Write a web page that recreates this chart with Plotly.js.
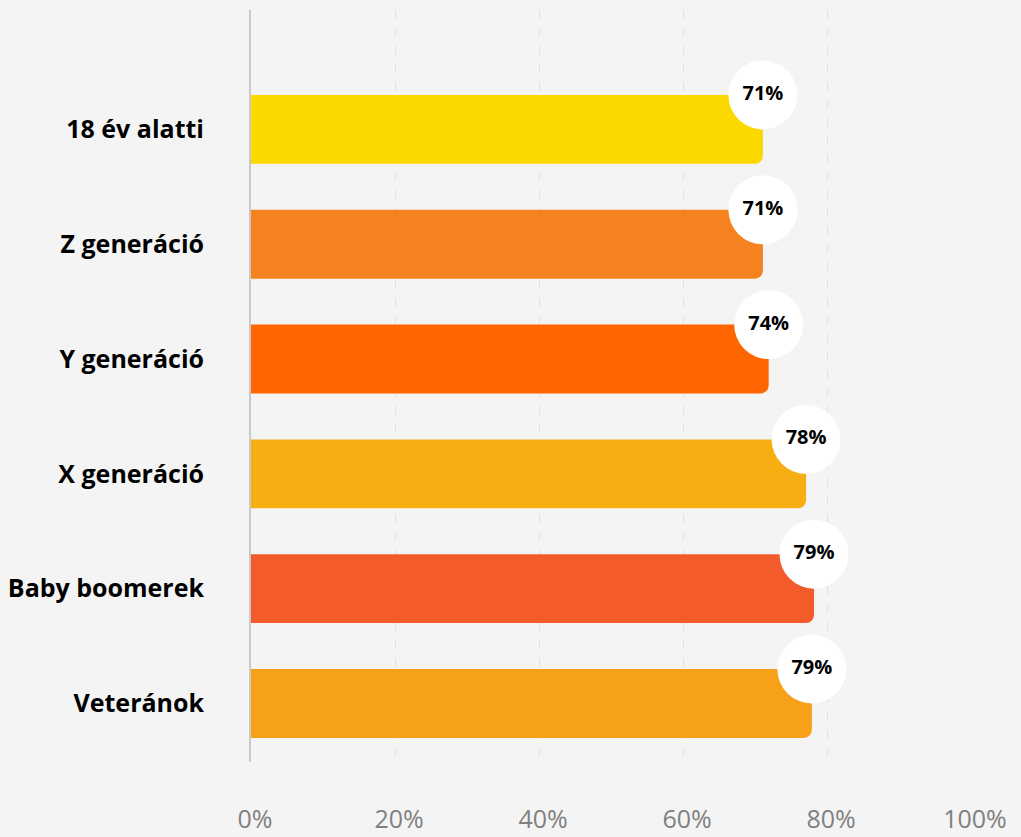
<!DOCTYPE html>
<html>
<head>
<meta charset="utf-8">
<script src="https://cdn.plot.ly/plotly-3.0.1.min.js"></script>
<style>
  html, body { margin: 0; padding: 0; background: #f4f4f4; }
  #chart { width: 1021px; height: 837px; }
</style>
</head>
<body>
<div id="chart"></div>
<script>
// Data
const categories = ["18 év alatti", "Z generáció", "Y generáció", "X generáció", "Baby boomerek", "Veteránok"];
const barValues = [71.1, 71.1, 71.9, 77.1, 78.2, 77.9];
const labelTexts = ["71%", "71%", "74%", "78%", "79%", "79%"];
const barColors = ["#FBD800", "#F5821F", "#FF6500", "#F6AE13", "#F45B2A", "#F7A118"];
const xTickValues = [0, 20, 40, 60, 80, 100];

const idx = categories.map((_, i) => i);
const halfBar = 0.3;

const bars = {
  type: "bar",
  orientation: "h",
  x: barValues,
  y: idx,
  marker: { color: barColors, cornerradius: 8, line: { width: 0 } },
  hoverinfo: "skip"
};

const bubbles = {
  type: "scatter",
  mode: "markers+text",
  x: barValues,
  y: idx.map(i => i - halfBar),
  text: labelTexts,
  textposition: "middle center",
  textfont: { family: "Open Sans", size: 20, color: "#000000", weight: 700 },
  marker: { size: 69, color: "#ffffff", line: { width: 0 } },
  cliponaxis: false,
  hoverinfo: "skip"
};

const layout = {
  width: 1021,
  height: 837,
  margin: { l: 251, r: 50, t: 10, b: 75 },
  paper_bgcolor: "#f4f4f4",
  plot_bgcolor: "#f4f4f4",
  showlegend: false,
  bargap: 0.4,
  xaxis: {
    range: [0, 100],
    tickvals: xTickValues,
    ticktext: xTickValues.map(v => v + "%"),
    showgrid: true,
    gridcolor: "#e2e2e2",
    griddash: "dash",
    gridwidth: 1,
    zeroline: false,
    showline: false,
    ticks: "",
    ticklabelstandoff: 40,
    ticklabelshift: 4,
    tickfont: { family: "Open Sans", size: 25, color: "#808080" },
    fixedrange: true
  },
  yaxis: {
    range: [5.51, -1.04],
    tickvals: idx,
    ticktext: categories,
    showgrid: false,
    zeroline: false,
    showline: true,
    linecolor: "#c9c9cc",
    linewidth: 2,
    ticks: "",
    ticklabelstandoff: 40,
    tickfont: { family: "Open Sans", size: 25, color: "#000000", weight: 700 },
    fixedrange: true
  }
};

Plotly.newPlot("chart", [bars, bubbles], layout, { displayModeBar: false, staticPlot: true });
</script>
</body>
</html>
